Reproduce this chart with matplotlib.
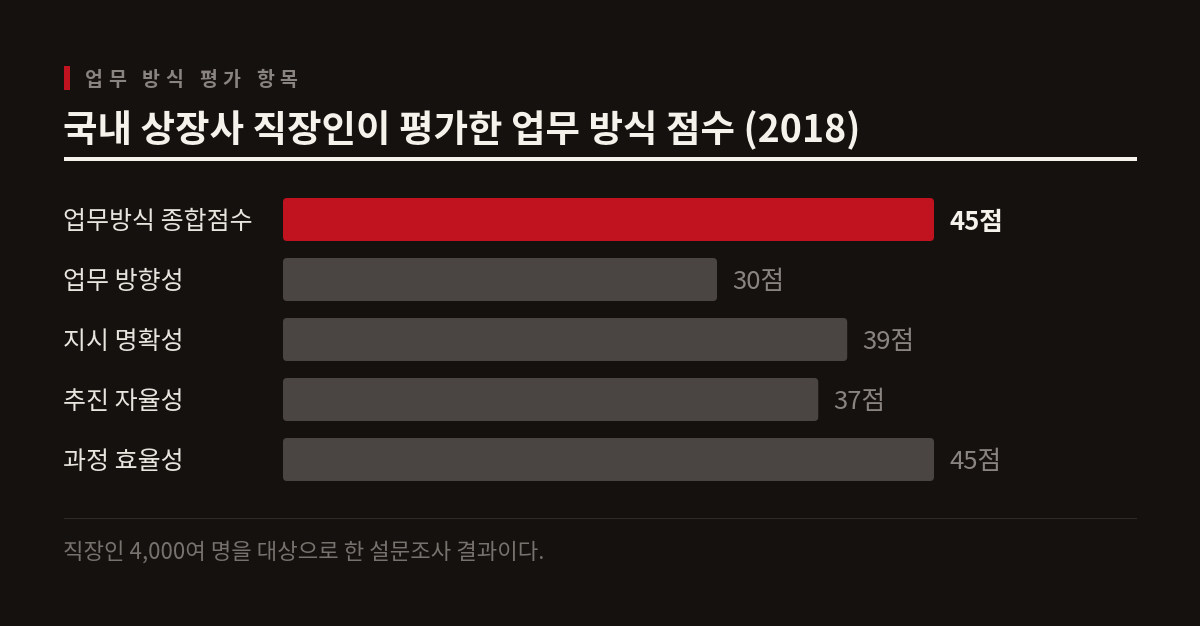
import matplotlib
matplotlib.use("Agg")
import matplotlib.pyplot as plt
from matplotlib.patches import FancyBboxPatch, Rectangle
from matplotlib.transforms import offset_copy

plt.rcParams['font.family'] = ['Noto Sans CJK KR', 'DejaVu Sans']

categories = ["업무방식 종합점수", "업무 방향성", "지시 명확성", "추진 자율성", "과정 효율성"]
values = [45, 30, 39, 37, 45]
value_labels = ["45점", "30점", "39점", "37점", "45점"]
subtitle = "업무 방식 평가 항목"
title = "국내 상장사 직장인이 평가한 업무 방식 점수 (2018)"
footer = "직장인 4,000여 명을 대상으로 한 설문조사 결과이다."

BG = "#14110f"
RED = "#c1121f"
GRAY = "#4a4542"
W, H = 1200, 626

fig = plt.figure(figsize=(W / 100, H / 100), dpi=100, facecolor=BG)

def fx(px):
    return px / W

def fy(py):
    return 1 - py / H

# subtitle marker
fig.patches.append(Rectangle((fx(64), fy(90)), fx(6), 24 / H, transform=fig.transFigure,
                             facecolor=RED, edgecolor='none'))
# subtitle with letter spacing
x = 85
for ch in subtitle:
    fig.text(fx(x), fy(80), ch, color="#8a8480", fontsize=14, fontweight='bold',
             va='center', ha='left')
    x += 11 if ch == " " else 23

fig.text(fx(63), fy(130), title, color="#f5f2ec", fontsize=27, fontweight='bold',
         va='center', ha='left')
fig.patches.append(Rectangle((fx(64), fy(161)), fx(1137 - 64), 4 / H, transform=fig.transFigure,
                             facecolor="#f5f2ec", edgecolor='none'))

# bars axes: x 283..934 for 0..45 ; rows 189.5..489.5
ax = fig.add_axes([fx(283), fy(489.5), fx(934 - 283), 300 / H])
ax.set_facecolor('none')
ax.set_xlim(0, 45)
ax.set_ylim(4.5, -0.5)
ax.axis('off')

bh = 43 / 60
colors = [RED] + [GRAY] * (len(values) - 1)
bars = ax.barh(range(len(values)), values, height=bh, color=colors)
xpx = 651 / 45
ypx = 60.0
r = 4 / xpx
for b, c in zip(bars, colors):
    b.set_visible(False)
    p = FancyBboxPatch((b.get_x() + r, b.get_y() + r * xpx / ypx),
                       b.get_width() - 2 * r, b.get_height() - 2 * r * xpx / ypx,
                       boxstyle=f"round,pad={r},rounding_size={r}",
                       mutation_aspect=xpx / ypx, facecolor=c, edgecolor='none')
    ax.add_patch(p)

lab_tr = offset_copy(ax.transData, fig=fig, x=15, y=-2.5, units='dots')
for i, (v, lab) in enumerate(zip(values, value_labels)):
    ax.text(v, i, lab, color="#f5f2ec" if i == 0 else "#8a8480",
            fontsize=18.5, fontweight='bold' if i == 0 else 'normal',
            va='center', ha='left', transform=lab_tr)

for i, cat in enumerate(categories):
    fig.text(fx(63), fy(222 + 60 * i), cat, color="#e8e4de", fontsize=18,
             va='center', ha='left')

fig.patches.append(Rectangle((fx(64), fy(519)), fx(1137 - 64), 1 / H, transform=fig.transFigure,
                             facecolor="#2e2a27", edgecolor='none'))
fig.text(fx(63), fy(553), footer, color="#77726d", fontsize=16, fontweight='light',
         va='center', ha='left')

fig.savefig("out.png", dpi=100, facecolor=BG)
